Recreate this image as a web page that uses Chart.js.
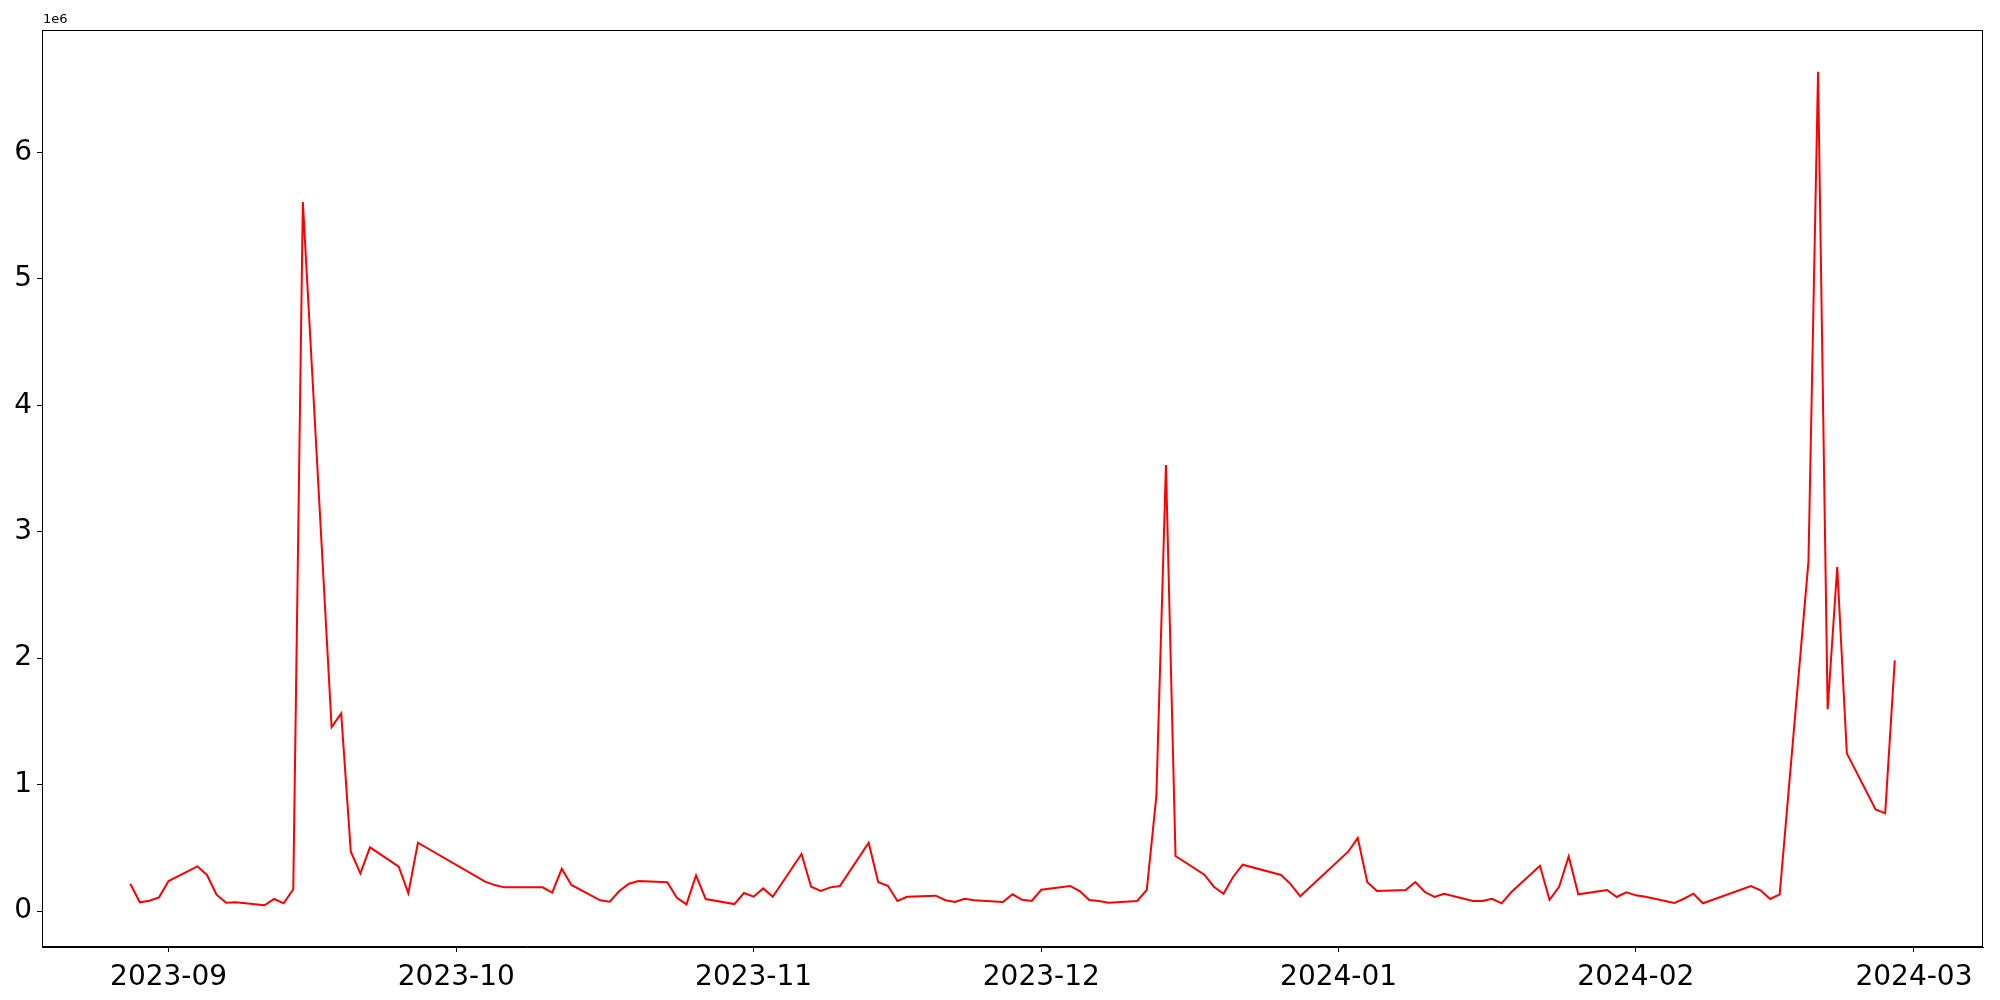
<!DOCTYPE html>
<html>
<head>
<meta charset="utf-8">
<script src="https://cdn.jsdelivr.net/npm/chart.js@4.4.0/dist/chart.umd.min.js"></script>
<style>
  body { margin: 0; background: #fff; }
</style>
</head>
<body>
<canvas id="volumeChart" width="2000" height="1000"></canvas>
<script>
// trading days (gaps are weekends / market holidays)
const dates = [
    '2023-08-28', '2023-08-29', '2023-08-30', '2023-08-31', '2023-09-01',
    '2023-09-04', '2023-09-05', '2023-09-06', '2023-09-07', '2023-09-08',
    '2023-09-11', '2023-09-12', '2023-09-13', '2023-09-14', '2023-09-15',
    '2023-09-18', '2023-09-19', '2023-09-20', '2023-09-21', '2023-09-22',
    '2023-09-25', '2023-09-26', '2023-09-27',
    '2023-10-04', '2023-10-05', '2023-10-06',
    '2023-10-10', '2023-10-11', '2023-10-12', '2023-10-13',
    '2023-10-16', '2023-10-17', '2023-10-18', '2023-10-19', '2023-10-20',
    '2023-10-23', '2023-10-24', '2023-10-25', '2023-10-26', '2023-10-27',
    '2023-10-30', '2023-10-31', '2023-11-01', '2023-11-02', '2023-11-03',
    '2023-11-06', '2023-11-07', '2023-11-08', '2023-11-09', '2023-11-10',
    '2023-11-13', '2023-11-14', '2023-11-15', '2023-11-16', '2023-11-17',
    '2023-11-20', '2023-11-21', '2023-11-22', '2023-11-23', '2023-11-24',
    '2023-11-27', '2023-11-28', '2023-11-29', '2023-11-30', '2023-12-01',
    '2023-12-04', '2023-12-05', '2023-12-06', '2023-12-07', '2023-12-08',
    '2023-12-11', '2023-12-12', '2023-12-13', '2023-12-14', '2023-12-15',
    '2023-12-18', '2023-12-19', '2023-12-20', '2023-12-21', '2023-12-22',
    '2023-12-26', '2023-12-27', '2023-12-28',
    '2024-01-02', '2024-01-03', '2024-01-04', '2024-01-05',
    '2024-01-08', '2024-01-09', '2024-01-10', '2024-01-11', '2024-01-12',
    '2024-01-15', '2024-01-16', '2024-01-17', '2024-01-18', '2024-01-19',
    '2024-01-22', '2024-01-23', '2024-01-24', '2024-01-25', '2024-01-26',
    '2024-01-29', '2024-01-30', '2024-01-31', '2024-02-01', '2024-02-02',
    '2024-02-05', '2024-02-06', '2024-02-07', '2024-02-08',
    '2024-02-13', '2024-02-14', '2024-02-15', '2024-02-16',
    '2024-02-19', '2024-02-20', '2024-02-21', '2024-02-22', '2024-02-23',
    '2024-02-26', '2024-02-27', '2024-02-28'
];

const volumes = [
    216000, 69000, 81000, 108000, 237000,
    353000, 285000, 129000, 66000, 69000,
    45000, 95000, 61000, 172000, 5607000,
    1455000, 1563000, 469000, 298000, 503000,
    350000, 140000, 540000,
    232000, 205000, 187000,
    187000, 145000, 334000, 206000,
    85000, 74000, 158000, 216000, 237000,
    227000, 105000, 53000, 282000, 95000,
    55000, 142000, 113000, 179000, 113000,
    451000, 192000, 158000, 187000, 198000,
    540000, 227000, 200000, 79000, 113000,
    121000, 85000, 71000, 97000, 85000,
    71000, 132000, 89000, 79000, 168000,
    198000, 158000, 87000, 79000, 66000,
    79000, 166000, 906000, 3527000, 435000,
    287000, 192000, 137000, 269000, 366000,
    285000, 213000, 116000,
    469000, 577000, 227000, 158000,
    166000, 229000, 150000, 111000, 137000,
    79000, 79000, 97000, 61000, 148000,
    358000, 89000, 192000, 432000, 132000,
    166000, 111000, 148000, 124000, 112000,
    63000, 97000, 137000, 61000,
    198000, 164000, 95000, 132000,
    2765000, 6638000, 1595000, 2721000, 1247000,
    804000, 772000, 1982000
];

const monthTicks = ['2023-09', '2023-10', '2023-11', '2023-12', '2024-01', '2024-02', '2024-03'];
const yTicks = [0, 1, 2, 3, 4, 5, 6];

const FONT = 'DejaVu Sans';
const toMs = d => Date.parse(d + 'T00:00:00Z');
const xs = dates.map(toMs);

// matplotlib-style 5% margins
const xSpan = xs[xs.length - 1] - xs[0];
const xMin = xs[0] - xSpan * 0.05;
const xMax = xs[xs.length - 1] + xSpan * 0.05;
const yLo = Math.min(...volumes), yHi = Math.max(...volumes);
const yMin = yLo - (yHi - yLo) * 0.05;
const yMax = yHi + (yHi - yLo) * 0.05;

const frame = {
    id: 'frame',
    afterDraw(chart) {
        const { ctx, chartArea: a } = chart;
        ctx.save();
        ctx.strokeStyle = '#000';
        ctx.lineWidth = 1;
        ctx.strokeRect(a.left + 0.5, a.top + 0.5, a.right - a.left - 1, a.bottom - a.top - 1);
        ctx.fillStyle = '#000';
        ctx.font = '13px "' + FONT + '"';
        ctx.textAlign = 'left';
        ctx.textBaseline = 'bottom';
        ctx.fillText('1e6', a.left + 1, a.top - 4);
        ctx.restore();
    }
};

Chart.defaults.font.family = FONT;
Chart.defaults.color = '#000';

new Chart(document.getElementById('volumeChart'), {
    type: 'line',
    data: {
        datasets: [{
            data: xs.map((x, i) => ({ x: x, y: volumes[i] })),
            borderColor: '#ff0000',
            borderWidth: 2,
            pointRadius: 0,
            tension: 0,
            fill: false
        }]
    },
    options: {
        responsive: false,
        animation: false,
        layout: { padding: { left: 0, top: 30, right: 17, bottom: 0 } },
        plugins: {
            legend: { display: false },
            tooltip: { enabled: false }
        },
        scales: {
            x: {
                type: 'linear',
                min: xMin,
                max: xMax,
                afterBuildTicks: s => { s.ticks = monthTicks.map(m => ({ value: toMs(m + '-01') })); },
                afterFit: s => { s.height = 53; },
                ticks: {
                    callback: v => monthTicks.find(m => toMs(m + '-01') === v) || '',
                    font: { family: FONT, size: 28 },
                    color: '#000',
                    maxRotation: 0,
                    autoSkip: false,
                    padding: 9
                },
                grid: { drawOnChartArea: false, drawTicks: true, tickLength: 5, color: '#000' },
                border: { display: true, color: '#000', width: 1 }
            },
            y: {
                min: yMin,
                max: yMax,
                afterBuildTicks: s => { s.ticks = yTicks.map(t => ({ value: t * 1e6 })); },
                afterFit: s => { s.width = 42; },
                ticks: {
                    callback: v => String(Math.round(v / 1e6)),
                    font: { family: FONT, size: 28 },
                    color: '#000',
                    padding: 5
                },
                grid: { drawOnChartArea: false, drawTicks: true, tickLength: 5, color: '#000' },
                border: { display: true, color: '#000', width: 1 }
            }
        }
    },
    plugins: [frame]
});
</script>
</body>
</html>
